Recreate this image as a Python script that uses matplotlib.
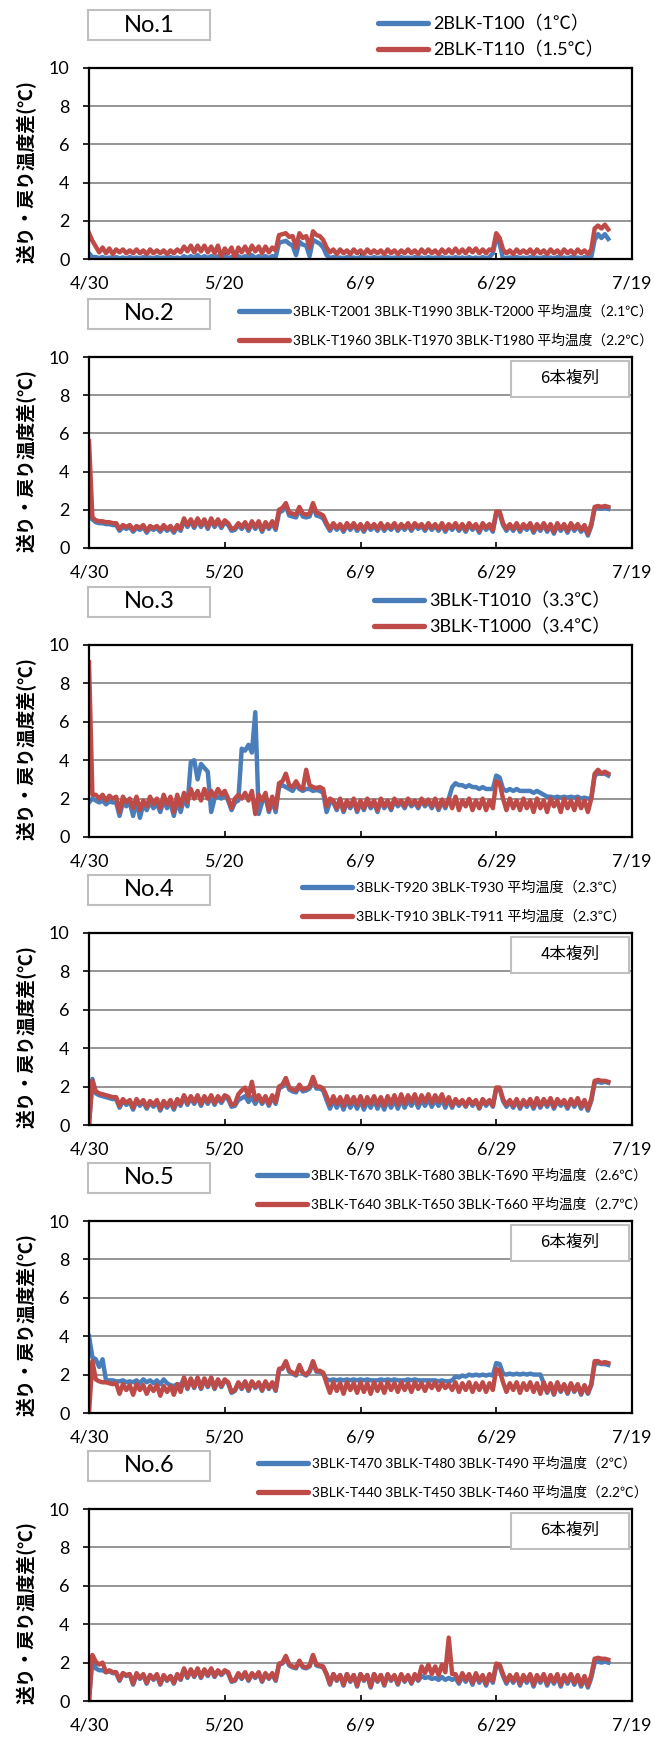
import numpy as np
import matplotlib
matplotlib.use("Agg")
import matplotlib.pyplot as plt
from matplotlib.lines import Line2D
from matplotlib.patches import Rectangle

plt.rcParams["font.family"] = ["Lato", "Noto Sans CJK JP", "DejaVu Sans"]

W, H = 655, 1737
BLUE = "#4a7ebb"
RED = "#be4b48"

xtick_pos = [0, 20, 40, 60, 80]
xtick_labels = ["4/30", "5/20", "6/9", "6/29", "7/19"]

# two readings per day, starting 4/30
no1_blue = [
    0.3, 0.1, 0.1, 0.05, 0.1, 0.02, 0.08, 0.02, 0.1, 0.03,
    0.08, 0.02, 0.1, 0.03, 0.08, 0.02, 0.1, 0.03, 0.08, 0.02,
    0.1, 0.03, 0.08, 0.02, 0.1, 0.03, 0.08, 0.02, 0.15, 0.05,
    0.15, 0.05, 0.2, 0.05, 0.15, 0.05, 0.15, 0.05, 0.15, 0.0,
    0.15, 0.05, 0.1, 0.0, 0.15, 0.05, 0.15, 0.05, 0.2, 0.05,
    0.15, 0.05, 0.15, 0.05, 0.15, 0.1, 0.85, 0.9, 0.95, 0.8,
    0.7, 0.2, 0.9, 0.75, 0.7, 0.15, 1.0, 0.9, 0.8, 0.6,
    0.2, 0.05, 0.1, 0.02, 0.08, 0.02, 0.1, 0.03, 0.08, 0.02,
    0.1, 0.03, 0.08, 0.02, 0.1, 0.03, 0.08, 0.02, 0.1, 0.03,
    0.08, 0.02, 0.1, 0.03, 0.08, 0.02, 0.1, 0.03, 0.08, 0.02,
    0.1, 0.03, 0.08, 0.02, 0.1, 0.03, 0.08, 0.02, 0.1, 0.03,
    0.08, 0.02, 0.1, 0.03, 0.08, 0.02, 0.1, 0.03, 0.1, 0.3,
    1.1, 0.8, 0.0, 0.05, 0.08, 0.02, 0.1, 0.03, 0.08, 0.02,
    0.1, 0.03, 0.08, 0.02, 0.1, 0.03, 0.08, 0.02, 0.1, 0.03,
    0.08, 0.02, 0.1, 0.03, 0.08, 0.02, 0.1, 0.03, 0.1, 1.0,
    1.3, 1.1, 1.3, 1.05]
no1_red = [
    1.35, 0.95, 0.65, 0.35, 0.6, 0.3, 0.55, 0.25, 0.5, 0.35,
    0.5, 0.3, 0.45, 0.3, 0.5, 0.3, 0.45, 0.25, 0.5, 0.3,
    0.45, 0.3, 0.45, 0.25, 0.45, 0.3, 0.5, 0.35, 0.65, 0.4,
    0.7, 0.35, 0.7, 0.4, 0.7, 0.35, 0.65, 0.3, 0.7, 0.1,
    0.55, 0.3, 0.6, 0.05, 0.6, 0.35, 0.65, 0.3, 0.7, 0.4,
    0.65, 0.3, 0.65, 0.35, 0.6, 0.45, 1.25, 1.3, 1.35, 1.15,
    1.2, 0.6, 1.35, 1.1, 1.2, 0.6, 1.45, 1.25, 1.2, 1.0,
    0.6, 0.35, 0.5, 0.25, 0.5, 0.3, 0.45, 0.25, 0.5, 0.3,
    0.45, 0.25, 0.5, 0.3, 0.45, 0.3, 0.45, 0.25, 0.5, 0.3,
    0.45, 0.25, 0.45, 0.3, 0.5, 0.3, 0.45, 0.25, 0.5, 0.3,
    0.5, 0.3, 0.45, 0.25, 0.5, 0.3, 0.5, 0.3, 0.55, 0.3,
    0.5, 0.3, 0.55, 0.35, 0.55, 0.3, 0.5, 0.3, 0.5, 0.45,
    1.35, 1.1, 0.5, 0.3, 0.45, 0.25, 0.5, 0.3, 0.45, 0.3,
    0.5, 0.25, 0.5, 0.3, 0.45, 0.25, 0.5, 0.3, 0.45, 0.25,
    0.5, 0.3, 0.45, 0.25, 0.5, 0.3, 0.45, 0.25, 0.5, 1.6,
    1.75, 1.6, 1.8, 1.55]

no2_blue = [
    1.6, 1.5, 1.35, 1.3, 1.3, 1.25, 1.25, 1.2, 1.2, 0.9,
    1.1, 1.0, 1.1, 0.85, 1.05, 0.95, 1.1, 0.8, 1.05, 0.95,
    1.05, 0.85, 1.1, 0.9, 1.05, 0.8, 1.1, 0.9, 1.45, 1.1,
    1.4, 1.05, 1.45, 1.1, 1.4, 1.0, 1.45, 1.1, 1.4, 1.05,
    1.35, 1.2, 0.9, 0.95, 1.2, 1.0, 1.25, 0.9, 1.3, 1.0,
    1.3, 0.85, 1.25, 1.0, 1.3, 0.95, 1.85, 1.95, 2.2, 1.7,
    1.65, 1.6, 2.0, 1.65, 1.6, 1.65, 2.2, 1.7, 1.65, 1.55,
    1.2, 0.9, 1.2, 0.95, 1.15, 0.85, 1.2, 0.95, 1.2, 0.9,
    1.15, 0.85, 1.2, 0.95, 1.15, 0.9, 1.2, 0.9, 1.15, 0.95,
    1.2, 0.9, 1.15, 0.95, 1.2, 0.9, 1.2, 1.0, 1.15, 0.9,
    1.2, 0.95, 1.15, 0.9, 1.2, 0.85, 1.15, 0.95, 1.2, 0.9,
    1.15, 0.85, 1.2, 0.95, 1.15, 0.8, 1.2, 0.95, 1.15, 0.85,
    1.8, 1.8, 1.2, 0.9, 1.15, 0.9, 1.2, 0.85, 1.15, 0.95,
    1.2, 0.8, 1.15, 0.9, 1.2, 0.85, 1.15, 0.75, 1.2, 0.9,
    1.15, 0.8, 1.2, 0.9, 1.15, 0.85, 1.1, 0.65, 1.15, 2.05,
    2.1, 2.05, 2.1, 2.05]
no2_red = [
    5.6, 1.6, 1.45, 1.4, 1.4, 1.35, 1.35, 1.3, 1.3, 1.0,
    1.2, 1.1, 1.2, 0.95, 1.15, 1.05, 1.2, 0.9, 1.15, 1.05,
    1.15, 0.95, 1.2, 1.0, 1.15, 0.9, 1.2, 1.0, 1.55, 1.2,
    1.5, 1.15, 1.55, 1.2, 1.5, 1.1, 1.55, 1.2, 1.5, 1.15,
    1.45, 1.3, 1.0, 1.05, 1.3, 1.1, 1.35, 1.0, 1.4, 1.1,
    1.4, 0.95, 1.35, 1.1, 1.4, 1.05, 2.0, 2.1, 2.35, 1.85,
    1.8, 1.75, 2.15, 1.8, 1.75, 1.8, 2.35, 1.85, 1.8, 1.7,
    1.3, 1.0, 1.3, 1.05, 1.25, 0.95, 1.3, 1.05, 1.3, 1.0,
    1.25, 0.95, 1.3, 1.05, 1.25, 1.0, 1.3, 1.0, 1.25, 1.05,
    1.3, 1.0, 1.25, 1.05, 1.3, 1.0, 1.3, 1.1, 1.25, 1.0,
    1.3, 1.05, 1.25, 1.0, 1.3, 0.95, 1.25, 1.05, 1.3, 1.0,
    1.25, 0.95, 1.3, 1.05, 1.25, 0.9, 1.3, 1.05, 1.25, 0.95,
    1.9, 1.9, 1.3, 1.0, 1.25, 1.0, 1.3, 0.95, 1.25, 1.05,
    1.3, 0.9, 1.25, 1.0, 1.3, 0.95, 1.25, 0.85, 1.3, 1.0,
    1.25, 0.9, 1.3, 1.0, 1.25, 0.95, 1.2, 0.75, 1.25, 2.15,
    2.2, 2.15, 2.2, 2.15]

no3_blue = [
    1.8, 2.0, 1.9, 1.8, 1.9, 1.7, 1.85, 1.8, 1.8, 1.1,
    1.8, 1.6, 1.8, 1.1, 1.9, 1.0, 1.7, 1.4, 1.8, 1.5,
    1.75, 1.3, 1.9, 1.5, 1.8, 1.1, 1.9, 1.3, 2.0, 1.6,
    3.9, 4.0, 3.0, 3.8, 3.6, 3.4, 1.3, 2.0, 2.1, 2.0,
    2.2, 1.9, 1.4, 1.8, 1.9, 4.6, 4.5, 4.8, 4.4, 6.5,
    1.2, 1.8, 2.1, 1.3, 1.9, 1.3, 2.6, 2.7, 2.6, 2.5,
    2.4, 2.7, 2.5, 2.4, 2.5, 2.5, 2.4, 2.45, 2.4, 2.3,
    1.3, 1.8, 1.8, 1.4, 1.9, 1.3, 1.8, 1.5, 1.9, 1.3,
    1.8, 1.4, 1.9, 1.5, 1.8, 1.3, 1.9, 1.5, 1.8, 1.4,
    1.9, 1.6, 1.8, 1.5, 1.9, 1.6, 1.8, 1.5, 1.9, 1.6,
    1.85, 1.5, 1.9, 1.4, 1.85, 1.5, 2.0, 2.6, 2.8, 2.7,
    2.7, 2.6, 2.7, 2.6, 2.6, 2.5, 2.6, 2.5, 2.5, 2.5,
    3.2, 3.1, 2.5, 2.4, 2.5, 2.4, 2.5, 2.4, 2.4, 2.4,
    2.4, 2.3, 2.4, 2.3, 2.2, 2.1, 2.1, 2.05, 2.1, 2.05,
    2.1, 2.05, 2.1, 2.05, 2.1, 2.0, 2.05, 2.0, 2.0, 3.2,
    3.3, 3.3, 3.3, 3.2]
no3_red = [
    9.1, 2.2, 2.2, 2.0, 2.2, 1.9, 2.15, 2.0, 2.1, 1.3,
    2.1, 1.8, 2.0, 1.5, 2.1, 1.4, 1.9, 1.6, 2.1, 1.7,
    2.0, 1.5, 2.2, 1.7, 2.1, 1.3, 2.2, 1.6, 2.3, 1.8,
    2.5, 2.0, 2.4, 1.9, 2.5, 2.0, 2.4, 2.1, 2.5, 2.2,
    2.4, 2.0, 1.5, 2.0, 2.2, 2.0, 2.3, 1.9, 2.4, 1.2,
    2.2, 1.9, 2.3, 1.4, 2.1, 1.5, 2.8, 2.9, 3.3, 2.7,
    2.6, 2.9, 2.6, 2.5, 3.5, 2.7, 2.6, 2.55, 2.6, 2.5,
    1.6, 2.0, 1.9, 1.5, 2.0, 1.4, 1.9, 1.6, 2.0, 1.4,
    1.9, 1.5, 2.0, 1.6, 1.9, 1.4, 2.0, 1.6, 1.9, 1.5,
    2.0, 1.7, 1.9, 1.6, 2.0, 1.7, 1.9, 1.6, 2.0, 1.7,
    1.95, 1.6, 2.0, 1.5, 1.95, 1.6, 2.0, 1.5, 2.1, 1.4,
    1.9, 1.6, 2.0, 1.4, 1.9, 1.5, 2.0, 1.4, 1.9, 1.5,
    2.9, 2.8, 2.0, 1.4, 2.0, 1.5, 1.9, 1.4, 2.0, 1.5,
    1.9, 1.3, 2.0, 1.5, 1.9, 1.3, 2.0, 1.6, 1.9, 1.3,
    2.0, 1.5, 1.9, 1.4, 2.0, 1.5, 1.9, 1.3, 2.0, 3.3,
    3.5, 3.3, 3.4, 3.3]

no4_blue = [
    0.0, 2.4, 1.65, 1.55, 1.5, 1.45, 1.4, 1.35, 1.35, 0.9,
    1.25, 1.05, 1.2, 0.8, 1.25, 1.0, 1.2, 0.85, 1.15, 0.95,
    1.2, 0.75, 1.15, 0.9, 1.2, 0.8, 1.25, 1.0, 1.45, 1.05,
    1.4, 1.1, 1.45, 1.0, 1.4, 1.1, 1.45, 1.05, 1.4, 1.15,
    1.45, 1.35, 0.95, 1.0, 1.3, 1.4, 1.5, 1.2, 1.45, 1.1,
    1.45, 1.1, 1.4, 1.0, 1.45, 1.1, 1.9, 2.0, 2.35, 1.85,
    1.75, 1.7, 2.0, 1.75, 1.8, 1.9, 2.4, 1.9, 1.9, 1.8,
    1.3, 0.85, 1.3, 0.9, 1.25, 0.8, 1.3, 0.9, 1.25, 0.85,
    1.3, 0.8, 1.25, 0.9, 1.3, 0.85, 1.25, 0.8, 1.3, 0.9,
    1.3, 0.85, 1.35, 0.9, 1.3, 1.0, 1.35, 0.9, 1.3, 1.0,
    1.35, 0.95, 1.3, 1.0, 1.35, 0.9, 1.35, 0.9, 1.3, 1.0,
    1.25, 0.95, 1.3, 1.0, 1.25, 0.85, 1.3, 1.0, 1.25, 0.95,
    1.9, 1.9, 1.25, 0.95, 1.2, 0.9, 1.25, 0.85, 1.2, 0.95,
    1.25, 0.85, 1.3, 0.9, 1.25, 0.95, 1.3, 0.85, 1.25, 1.0,
    1.2, 0.85, 1.25, 0.95, 1.3, 0.85, 1.2, 0.75, 1.25, 2.2,
    2.25, 2.2, 2.25, 2.2]
no4_red = [
    0.0, 2.3, 1.75, 1.65, 1.6, 1.55, 1.5, 1.45, 1.45, 1.0,
    1.35, 1.15, 1.3, 0.9, 1.35, 1.1, 1.3, 0.95, 1.25, 1.05,
    1.3, 0.85, 1.25, 1.0, 1.3, 0.9, 1.35, 1.1, 1.55, 1.15,
    1.5, 1.2, 1.55, 1.1, 1.5, 1.2, 1.55, 1.15, 1.5, 1.25,
    1.55, 1.45, 1.05, 1.1, 1.6, 1.8, 1.95, 1.5, 2.25, 1.3,
    1.55, 1.2, 1.5, 1.1, 1.55, 1.2, 2.0, 2.1, 2.45, 1.95,
    1.85, 1.8, 2.1, 1.85, 1.9, 2.0, 2.5, 2.0, 2.0, 1.9,
    1.5, 1.05, 1.5, 1.1, 1.45, 1.0, 1.5, 1.1, 1.45, 1.05,
    1.5, 1.0, 1.45, 1.1, 1.5, 1.05, 1.45, 1.0, 1.5, 1.1,
    1.55, 1.05, 1.6, 1.1, 1.55, 1.2, 1.6, 1.1, 1.55, 1.2,
    1.6, 1.15, 1.55, 1.2, 1.6, 1.1, 1.45, 1.0, 1.35, 1.1,
    1.3, 1.0, 1.35, 1.1, 1.3, 0.9, 1.35, 1.1, 1.3, 1.0,
    1.95, 1.95, 1.35, 1.05, 1.3, 1.0, 1.35, 0.95, 1.3, 1.05,
    1.35, 0.95, 1.4, 1.0, 1.35, 1.05, 1.4, 0.95, 1.35, 1.1,
    1.3, 0.95, 1.35, 1.05, 1.4, 0.95, 1.3, 0.85, 1.35, 2.3,
    2.35, 2.3, 2.3, 2.25]

no5_blue = [
    4.0, 2.9, 2.8, 2.4, 2.8, 1.7, 1.7, 1.7, 1.65, 1.65,
    1.7, 1.6, 1.65, 1.6, 1.7, 1.55, 1.75, 1.6, 1.7, 1.55,
    1.7, 1.5, 1.75, 1.55, 1.45, 1.4, 1.5, 1.45, 1.8, 1.25,
    1.75, 1.3, 1.8, 1.25, 1.75, 1.35, 1.8, 1.25, 1.7, 1.35,
    1.7, 1.55, 1.05, 1.15, 1.55, 1.25, 1.6, 1.15, 1.6, 1.3,
    1.55, 1.15, 1.6, 1.25, 1.55, 1.15, 2.25, 2.3, 2.65, 2.15,
    2.05, 1.95, 2.45, 2.05, 1.95, 2.15, 2.65, 2.15, 2.15, 2.05,
    1.75, 1.7, 1.75, 1.7, 1.75, 1.7, 1.75, 1.7, 1.75, 1.7,
    1.75, 1.7, 1.75, 1.7, 1.7, 1.7, 1.75, 1.7, 1.75, 1.7,
    1.75, 1.7, 1.7, 1.7, 1.75, 1.7, 1.75, 1.7, 1.7, 1.7,
    1.7, 1.7, 1.7, 1.65, 1.7, 1.65, 1.65, 1.7, 1.9, 1.85,
    1.95, 1.9, 2.0, 1.95, 2.0, 1.95, 2.0, 1.95, 2.0, 1.95,
    2.6, 2.55, 2.05, 2.0, 2.05, 2.0, 2.05, 2.0, 2.05, 2.0,
    2.05, 2.0, 2.0, 2.0, 1.55, 1.05, 1.5, 0.95, 1.55, 1.1,
    1.45, 1.0, 1.5, 1.1, 1.45, 0.95, 1.4, 1.0, 1.45, 2.55,
    2.6, 2.55, 2.55, 2.5]
no5_red = [
    0.0, 2.7, 1.75, 1.65, 1.6, 1.6, 1.55, 1.5, 1.55, 1.0,
    1.5, 1.2, 1.45, 0.95, 1.5, 1.2, 1.45, 1.0, 1.4, 1.15,
    1.45, 0.9, 1.4, 1.1, 1.4, 0.95, 1.5, 1.1, 1.85, 1.3,
    1.8, 1.35, 1.85, 1.3, 1.8, 1.4, 1.85, 1.3, 1.75, 1.4,
    1.75, 1.6, 1.1, 1.2, 1.6, 1.3, 1.65, 1.2, 1.65, 1.35,
    1.6, 1.2, 1.65, 1.3, 1.6, 1.2, 2.3, 2.35, 2.7, 2.2,
    2.1, 2.0, 2.5, 2.1, 2.0, 2.2, 2.7, 2.2, 2.2, 2.1,
    1.55, 1.05, 1.6, 1.15, 1.55, 1.0, 1.6, 1.2, 1.55, 1.05,
    1.6, 1.1, 1.55, 1.0, 1.6, 1.15, 1.55, 1.05, 1.6, 1.2,
    1.55, 1.1, 1.6, 1.2, 1.55, 1.1, 1.6, 1.25, 1.55, 1.15,
    1.55, 1.3, 1.6, 1.2, 1.55, 1.3, 1.5, 1.2, 1.6, 1.1,
    1.55, 1.2, 1.6, 1.1, 1.55, 1.2, 1.6, 1.1, 1.55, 1.2,
    2.3, 2.2, 1.6, 1.1, 1.55, 1.2, 1.6, 1.05, 1.55, 1.2,
    1.6, 1.1, 1.55, 1.0, 1.6, 1.1, 1.55, 1.0, 1.6, 1.15,
    1.5, 1.05, 1.55, 1.15, 1.5, 1.0, 1.45, 1.05, 1.5, 2.7,
    2.7, 2.6, 2.65, 2.6]

no6_blue = [
    0.0, 2.3, 1.7, 1.6, 1.6, 1.5, 1.55, 1.45, 1.45, 1.05,
    1.45, 1.3, 1.4, 0.85, 1.4, 1.15, 1.35, 0.9, 1.35, 1.1,
    1.35, 0.85, 1.3, 1.05, 1.3, 0.9, 1.35, 1.1, 1.65, 1.2,
    1.6, 1.25, 1.65, 1.2, 1.6, 1.3, 1.65, 1.25, 1.55, 1.35,
    1.55, 1.45, 1.0, 1.05, 1.4, 1.15, 1.45, 1.05, 1.4, 1.2,
    1.45, 1.0, 1.4, 1.15, 1.4, 1.05, 1.9, 1.95, 2.3, 1.85,
    1.75, 1.7, 2.05, 1.75, 1.7, 1.8, 2.35, 1.85, 1.8, 1.75,
    1.4, 0.85, 1.4, 1.05, 1.35, 0.8, 1.4, 1.0, 1.35, 0.75,
    1.4, 1.05, 1.35, 0.7, 1.4, 1.0, 1.35, 0.8, 1.35, 1.05,
    1.3, 0.85, 1.35, 1.0, 1.3, 0.9, 1.3, 1.05, 1.3, 1.2,
    1.25, 1.15, 1.2, 1.1, 1.25, 1.1, 1.2, 1.1, 1.2, 0.9,
    1.3, 1.0, 1.3, 0.85, 1.35, 0.95, 1.25, 0.8, 1.3, 0.95,
    1.85, 1.8, 1.3, 0.9, 1.25, 0.95, 1.3, 0.8, 1.25, 0.95,
    1.3, 0.75, 1.25, 0.95, 1.3, 0.8, 1.25, 0.9, 1.3, 0.75,
    1.25, 0.9, 1.3, 0.85, 1.25, 0.75, 1.2, 0.7, 1.2, 2.0,
    2.05, 2.0, 2.05, 2.0]
no6_red = [
    0.0, 2.4, 2.05, 1.9, 2.0, 1.5, 1.6, 1.5, 1.5, 1.1,
    1.45, 1.35, 1.4, 0.9, 1.45, 1.2, 1.4, 0.95, 1.35, 1.15,
    1.4, 0.9, 1.35, 1.1, 1.3, 0.95, 1.4, 1.15, 1.7, 1.25,
    1.65, 1.3, 1.7, 1.25, 1.65, 1.35, 1.7, 1.3, 1.6, 1.4,
    1.6, 1.5, 1.05, 1.1, 1.45, 1.2, 1.5, 1.1, 1.45, 1.25,
    1.5, 1.05, 1.45, 1.2, 1.45, 1.1, 1.95, 2.0, 2.35, 1.9,
    1.8, 1.75, 2.1, 1.8, 1.75, 1.85, 2.4, 1.9, 1.85, 1.8,
    1.4, 0.9, 1.4, 1.1, 1.35, 0.85, 1.4, 1.05, 1.35, 0.8,
    1.4, 1.1, 1.35, 0.75, 1.4, 1.05, 1.35, 0.85, 1.4, 1.1,
    1.35, 0.9, 1.4, 1.05, 1.35, 0.95, 1.4, 1.1, 1.8, 1.45,
    1.9, 1.4, 1.8, 1.35, 1.9, 1.5, 3.3, 1.4, 1.4, 1.0,
    1.45, 1.1, 1.4, 0.95, 1.45, 1.05, 1.35, 0.9, 1.4, 1.05,
    1.95, 1.9, 1.4, 1.0, 1.35, 1.05, 1.4, 0.9, 1.35, 1.05,
    1.4, 0.85, 1.35, 1.05, 1.4, 0.9, 1.35, 1.0, 1.4, 0.85,
    1.35, 1.0, 1.4, 0.95, 1.35, 0.85, 1.3, 0.8, 1.35, 2.2,
    2.25, 2.2, 2.2, 2.15]

titles = ["No.1", "No.2", "No.3", "No.4", "No.5", "No.6"]
blue_labels = [
    "2BLK-T100（1℃）",
    "3BLK-T2001 3BLK-T1990 3BLK-T2000 平均温度（2.1℃）",
    "3BLK-T1010（3.3℃）",
    "3BLK-T920 3BLK-T930 平均温度（2.3℃）",
    "3BLK-T670 3BLK-T680 3BLK-T690 平均温度（2.6℃）",
    "3BLK-T470 3BLK-T480 3BLK-T490 平均温度（2℃）",
]
red_labels = [
    "2BLK-T110（1.5℃）",
    "3BLK-T1960 3BLK-T1970 3BLK-T1980 平均温度（2.2℃）",
    "3BLK-T1000（3.4℃）",
    "3BLK-T910 3BLK-T911 平均温度（2.3℃）",
    "3BLK-T640 3BLK-T650 3BLK-T660 平均温度（2.7℃）",
    "3BLK-T440 3BLK-T450 3BLK-T460 平均温度（2.2℃）",
]
notes = [None, "6本複列", None, "4本複列", "6本複列", "6本複列"]
blues = [no1_blue, no2_blue, no3_blue, no4_blue, no5_blue, no6_blue]
reds = [no1_red, no2_red, no3_red, no4_red, no5_red, no6_red]

# layout in pixels
tops = [68, 357, 645, 933, 1221, 1509]
bottoms = [259, 548, 837, 1125, 1413, 1701]
leg_x = [378, 239, 374, 302, 257, 258]
leg_size = [13, 9.9, 13, 10.2, 9.9, 9.9]
AX_L, AX_R = 89, 632


def fx(x):
    return x / W


def fy(y):
    return 1 - y / H


fig = plt.figure(figsize=(W / 100, H / 100), dpi=100)

for i in range(6):
    t, b = tops[i], bottoms[i]
    ax = fig.add_axes([fx(AX_L), fy(b), (AX_R - AX_L) / W, (b - t) / H])
    blue = blues[i]
    red = reds[i]
    ax.plot(np.arange(len(blue)) / 2, blue, color=BLUE, lw=3.2)
    ax.plot(np.arange(len(red)) / 2, red, color=RED, lw=3.2)
    ax.set_xlim(0, 80)
    ax.set_ylim(0, 10)
    ax.set_yticks(range(0, 11, 2))
    ax.set_xticks(xtick_pos)
    ax.set_xticklabels(xtick_labels)
    ax.yaxis.grid(True, color="#8c8c8c", lw=1.3)
    ax.set_axisbelow(True)
    for s in ax.spines.values():
        s.set_linewidth(1.6)
    ax.tick_params(axis="x", direction="in", length=4, width=1.2, pad=12, labelsize=13)
    ax.tick_params(axis="y", direction="out", length=4, width=1.2, pad=10, labelsize=13)

    fig.text(fx(27), fy((t + b) / 2 + 8), "送り・戻り温度差(℃)", rotation=90,
             ha="center", va="center", fontsize=13.5, fontweight="bold",
             family=["Noto Sans CJK JP"])

    # title box
    fig.add_artist(Rectangle((fx(88), fy(t - 28)), 122 / W, 30 / H,
                             transform=fig.transFigure, facecolor="white",
                             edgecolor="#bfbfbf", lw=1.5))
    fig.text(fx(149), fy(t - 43), titles[i], ha="center", va="center", fontsize=17)

    if notes[i]:
        fig.add_artist(Rectangle((fx(511), fy(t + 39.5)), 118 / W, 36 / H,
                                 transform=fig.transFigure, facecolor="white",
                                 edgecolor="#bfbfbf", lw=1.5, zorder=5))
        fig.text(fx(570), fy(t + 21.5), notes[i], ha="center", va="center",
                 fontsize=12, family=["Noto Sans CJK JP"], zorder=6)

    sz = leg_size[i]
    handles = [Line2D([], [], color=BLUE, lw=3.8, solid_capstyle="round"),
               Line2D([], [], color=RED, lw=3.8, solid_capstyle="round")]
    fig.legend(handles, [blue_labels[i], red_labels[i]], loc="center left",
               bbox_to_anchor=(fx(leg_x[i]), fy(t - 31.5)), frameon=False,
               fontsize=sz, handlelength=50 / (sz * 1.389), handletextpad=0.3,
               labelspacing=0.5 if sz > 12 else 1.1, borderpad=0, borderaxespad=0)

fig.savefig("out.png", dpi=100, facecolor="white")
